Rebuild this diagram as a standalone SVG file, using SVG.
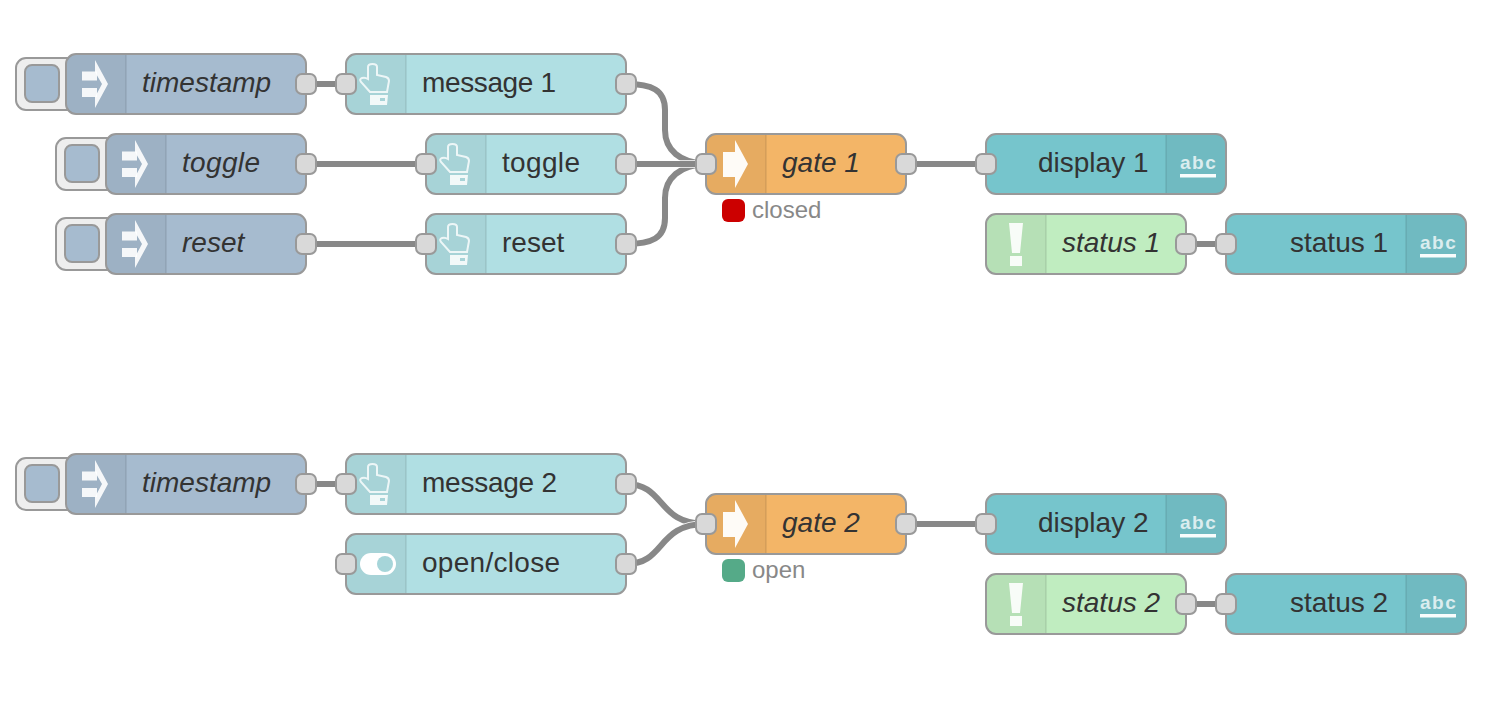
<svg xmlns="http://www.w3.org/2000/svg" xmlns:xlink="http://www.w3.org/1999/xlink" width="1510" height="710" viewBox="0 0 1510 710">
<style>
text{font-family:"Liberation Sans",Arial,sans-serif;font-size:28px;fill:#333}
.i{font-style:italic}
.body{stroke:#999;stroke-width:2}
.blue{fill:#a6bbcf}.teal{fill:#b0dfe3}.disp{fill:#76c5cc}.org{fill:#f3b567}.grn{fill:#c0edc0}
.shade{fill:#000;fill-opacity:.05}
.sep{stroke:#000;stroke-opacity:.07;stroke-width:2}
.port{fill:#d9d9d9;stroke:#999;stroke-width:2}
.btn{fill:#eee;stroke:#999;stroke-width:2}
.btni{fill:#a6bbcf;stroke:#999;stroke-width:2}
.wire{fill:none;stroke:#888;stroke-width:6}
.case{fill:none;stroke:#fff;stroke-width:7.500}
.st{font-size:24px;fill:#888}
.abc{font-size:19px;font-weight:bold;fill:#fff;fill-opacity:.75;letter-spacing:1.500px}
</style>
<defs>
<rect id="p" x="-10" y="-10" width="20" height="20" rx="6" class="port"/>
<g id="inject">
<rect x="16" y="58" width="70" height="52" rx="10" class="btn"/>
<rect x="25" y="65" width="34" height="37" rx="7" class="btni"/>
</g>
<g id="injectIcon" fill="#fff" fill-opacity=".9">
<rect x="82" y="71.500" width="15" height="9"/>
<rect x="82" y="88" width="15" height="9"/>
<path d="M95 60 L108 84 L95 108 V97 L102 84 L95 72 Z"/>
</g>
<g id="hand">
<path d="M368 67 Q368 64 372.500 64 Q377 64 377 67 V75 L386 77 Q389 78 389 81 L387 92 H370 L361 82 Q359 79 362 78 Q365 77 368 79 Z" fill="none" stroke="#fff" stroke-opacity=".8" stroke-width="2"/>
<path d="M370 95 H388 L387 105 H370 Z M380 98 V101 H385 V98 Z" fill="#fff" fill-rule="evenodd" fill-opacity=".85"/>
</g>
<path id="arrow" d="M723 152 H735 V140 L748 164 L735 188 V177 H723 Z" fill="#fff" fill-opacity=".95"/>
<path id="bang" d="M1009 223 H1023 L1020 253 H1012 Z M1010 256 H1022 V266 H1010 Z" fill="#fff" fill-opacity=".9"/>
<g id="abcIcon">
<text class="abc" x="1180" y="169">abc</text>
<rect x="1180" y="174" width="36" height="3.500" fill="#fff" fill-opacity=".95"/>
</g>
</defs>

<g id="connectors">
<path class="wire" d="M306 84 H346"/>
<path class="wire" d="M306 164 H426"/>
<path class="wire" d="M306 244 H426"/>
<path class="case" d="M626 84 C652 84 665 90 665 110 V130 C665 150 680 163 706 164"/><path class="wire" d="M626 84 C652 84 665 90 665 110 V130 C665 150 680 163 706 164"/>
<path class="case" d="M626 244 C652 244 665 238 665 218 V198 C665 178 680 165 706 164"/><path class="wire" d="M626 244 C652 244 665 238 665 218 V198 C665 178 680 165 706 164"/>
<path class="case" d="M626 164 H706"/><path class="wire" d="M626 164 H706"/>
<path class="wire" d="M906 164 H986"/>
<path class="wire" d="M1186 244 H1226"/>
<path class="wire" d="M306 484 H346"/>
<path class="case" d="M626 484 C666 484 656 524 706 524"/><path class="wire" d="M626 484 C666 484 656 524 706 524"/>
<path class="case" d="M626 564 C666 564 656 524 706 524"/><path class="wire" d="M626 564 C666 564 656 524 706 524"/>
<path class="wire" d="M906 524 H986"/>
<path class="wire" d="M1186 604 H1226"/>
</g>

<g id="inject-timestamp-1">
<use xlink:href="#inject" href="#inject"/>
<rect x="66" y="54" width="240" height="60" rx="10" class="body blue"/>
<path d="M76 55 H126 V113 H76 Q67 113 67 104 V64 Q67 55 76 55 Z" class="shade"/>
<line x1="126" y1="55" x2="126" y2="113" class="sep"/>
<use xlink:href="#injectIcon" href="#injectIcon"/>
<text class="i" x="142" y="92">timestamp</text>
<use xlink:href="#p" href="#p" x="306" y="84"/>
</g>
<g id="button-message-1">
<rect x="346" y="54" width="280" height="60" rx="10" class="body teal"/>
<path d="M356 55 H406 V113 H356 Q347 113 347 104 V64 Q347 55 356 55 Z" class="shade"/>
<line x1="406" y1="55" x2="406" y2="113" class="sep"/>
<use xlink:href="#hand" href="#hand"/>
<text x="422" y="92" textLength="134">message 1</text>
<use xlink:href="#p" href="#p" x="346" y="84"/>
<use xlink:href="#p" href="#p" x="626" y="84"/>
</g>
<g id="inject-toggle" transform="translate(40 80)">
<use xlink:href="#inject" href="#inject"/>
<rect x="66" y="54" width="200" height="60" rx="10" class="body blue"/>
<path d="M76 55 H126 V113 H76 Q67 113 67 104 V64 Q67 55 76 55 Z" class="shade"/>
<line x1="126" y1="55" x2="126" y2="113" class="sep"/>
<use xlink:href="#injectIcon" href="#injectIcon"/>
<text class="i" x="142" y="92" textLength="78">toggle</text>
<use xlink:href="#p" href="#p" x="266" y="84"/>
</g>
<g id="button-toggle" transform="translate(80 80)">
<rect x="346" y="54" width="200" height="60" rx="10" class="body teal"/>
<path d="M356 55 H406 V113 H356 Q347 113 347 104 V64 Q347 55 356 55 Z" class="shade"/>
<line x1="406" y1="55" x2="406" y2="113" class="sep"/>
<use xlink:href="#hand" href="#hand"/>
<text x="422" y="92" textLength="78">toggle</text>
<use xlink:href="#p" href="#p" x="346" y="84"/>
<use xlink:href="#p" href="#p" x="546" y="84"/>
</g>
<g id="inject-reset" transform="translate(40 160)">
<use xlink:href="#inject" href="#inject"/>
<rect x="66" y="54" width="200" height="60" rx="10" class="body blue"/>
<path d="M76 55 H126 V113 H76 Q67 113 67 104 V64 Q67 55 76 55 Z" class="shade"/>
<line x1="126" y1="55" x2="126" y2="113" class="sep"/>
<use xlink:href="#injectIcon" href="#injectIcon"/>
<text class="i" x="142" y="92">reset</text>
<use xlink:href="#p" href="#p" x="266" y="84"/>
</g>
<g id="button-reset" transform="translate(80 160)">
<rect x="346" y="54" width="200" height="60" rx="10" class="body teal"/>
<path d="M356 55 H406 V113 H356 Q347 113 347 104 V64 Q347 55 356 55 Z" class="shade"/>
<line x1="406" y1="55" x2="406" y2="113" class="sep"/>
<use xlink:href="#hand" href="#hand"/>
<text x="422" y="92">reset</text>
<use xlink:href="#p" href="#p" x="346" y="84"/>
<use xlink:href="#p" href="#p" x="546" y="84"/>
</g>
<g id="gate-1">
<rect x="706" y="134" width="200" height="60" rx="10" class="body org"/>
<path d="M716 135 H766 V193 H716 Q707 193 707 184 V144 Q707 135 716 135 Z" class="shade"/>
<line x1="766" y1="135" x2="766" y2="193" class="sep"/>
<use xlink:href="#arrow" href="#arrow"/>
<text class="i" x="782" y="172">gate 1</text>
<use xlink:href="#p" href="#p" x="706" y="164"/>
<use xlink:href="#p" href="#p" x="906" y="164"/>
<rect x="722" y="199" width="23" height="23" rx="6" fill="#c00"/>
<text class="st" x="752" y="218">closed</text>
</g>
<g id="display-1">
<rect x="986" y="134" width="240" height="60" rx="10" class="body disp"/>
<path d="M1166 135 H1216 Q1225 135 1225 144 V184 Q1225 193 1216 193 H1166 Z" class="shade"/>
<line x1="1166" y1="135" x2="1166" y2="193" class="sep"/>
<use xlink:href="#abcIcon" href="#abcIcon"/>
<text x="1038" y="172">display 1</text>
<use xlink:href="#p" href="#p" x="986" y="164"/>
</g>
<g id="status-1">
<rect x="986" y="214" width="200" height="60" rx="10" class="body grn"/>
<path d="M996 215 H1046 V273 H996 Q987 273 987 264 V224 Q987 215 996 215 Z" class="shade"/>
<line x1="1046" y1="215" x2="1046" y2="273" class="sep"/>
<use xlink:href="#bang" href="#bang"/>
<text class="i" x="1062" y="252">status 1</text>
<use xlink:href="#p" href="#p" x="1186" y="244"/>
</g>
<g id="status-display-1">
<rect x="1226" y="214" width="240" height="60" rx="10" class="body disp"/>
<path d="M1406 215 H1456 Q1465 215 1465 224 V264 Q1465 273 1456 273 H1406 Z" class="shade"/>
<line x1="1406" y1="215" x2="1406" y2="273" class="sep"/>
<use xlink:href="#abcIcon" href="#abcIcon" x="240" y="80"/>
<text x="1290" y="252">status 1</text>
<use xlink:href="#p" href="#p" x="1226" y="244"/>
</g>

<g id="inject-timestamp-2" transform="translate(0 400)">
<use xlink:href="#inject" href="#inject"/>
<rect x="66" y="54" width="240" height="60" rx="10" class="body blue"/>
<path d="M76 55 H126 V113 H76 Q67 113 67 104 V64 Q67 55 76 55 Z" class="shade"/>
<line x1="126" y1="55" x2="126" y2="113" class="sep"/>
<use xlink:href="#injectIcon" href="#injectIcon"/>
<text class="i" x="142" y="92">timestamp</text>
<use xlink:href="#p" href="#p" x="306" y="84"/>
</g>
<g id="button-message-2" transform="translate(0 400)">
<rect x="346" y="54" width="280" height="60" rx="10" class="body teal"/>
<path d="M356 55 H406 V113 H356 Q347 113 347 104 V64 Q347 55 356 55 Z" class="shade"/>
<line x1="406" y1="55" x2="406" y2="113" class="sep"/>
<use xlink:href="#hand" href="#hand"/>
<text x="422" y="92" textLength="135">message 2</text>
<use xlink:href="#p" href="#p" x="346" y="84"/>
<use xlink:href="#p" href="#p" x="626" y="84"/>
</g>
<g id="switch-open-close" transform="translate(0 480)">
<rect x="346" y="54" width="280" height="60" rx="10" class="body teal"/>
<path d="M356 55 H406 V113 H356 Q347 113 347 104 V64 Q347 55 356 55 Z" class="shade"/>
<line x1="406" y1="55" x2="406" y2="113" class="sep"/>
<rect x="360" y="73" width="36" height="22" rx="11" fill="#fff"/>
<circle cx="385" cy="84" r="8" fill="#a6d5d9"/>
<text x="422" y="92" textLength="138">open/close</text>
<use xlink:href="#p" href="#p" x="346" y="84"/>
<use xlink:href="#p" href="#p" x="626" y="84"/>
</g>
<g id="gate-2" transform="translate(0 360)">
<rect x="706" y="134" width="200" height="60" rx="10" class="body org"/>
<path d="M716 135 H766 V193 H716 Q707 193 707 184 V144 Q707 135 716 135 Z" class="shade"/>
<line x1="766" y1="135" x2="766" y2="193" class="sep"/>
<use xlink:href="#arrow" href="#arrow"/>
<text class="i" x="782" y="172">gate 2</text>
<use xlink:href="#p" href="#p" x="706" y="164"/>
<use xlink:href="#p" href="#p" x="906" y="164"/>
<rect x="722" y="199" width="23" height="23" rx="6" fill="#5a8"/>
<text class="st" x="752" y="218">open</text>
</g>
<g id="display-2" transform="translate(0 360)">
<rect x="986" y="134" width="240" height="60" rx="10" class="body disp"/>
<path d="M1166 135 H1216 Q1225 135 1225 144 V184 Q1225 193 1216 193 H1166 Z" class="shade"/>
<line x1="1166" y1="135" x2="1166" y2="193" class="sep"/>
<use xlink:href="#abcIcon" href="#abcIcon"/>
<text x="1038" y="172">display 2</text>
<use xlink:href="#p" href="#p" x="986" y="164"/>
</g>
<g id="status-2" transform="translate(0 360)">
<rect x="986" y="214" width="200" height="60" rx="10" class="body grn"/>
<path d="M996 215 H1046 V273 H996 Q987 273 987 264 V224 Q987 215 996 215 Z" class="shade"/>
<line x1="1046" y1="215" x2="1046" y2="273" class="sep"/>
<use xlink:href="#bang" href="#bang"/>
<text class="i" x="1062" y="252">status 2</text>
<use xlink:href="#p" href="#p" x="1186" y="244"/>
</g>
<g id="status-display-2" transform="translate(0 360)">
<rect x="1226" y="214" width="240" height="60" rx="10" class="body disp"/>
<path d="M1406 215 H1456 Q1465 215 1465 224 V264 Q1465 273 1456 273 H1406 Z" class="shade"/>
<line x1="1406" y1="215" x2="1406" y2="273" class="sep"/>
<use xlink:href="#abcIcon" href="#abcIcon" x="240" y="80"/>
<text x="1290" y="252">status 2</text>
<use xlink:href="#p" href="#p" x="1226" y="244"/>
</g>
</svg>
